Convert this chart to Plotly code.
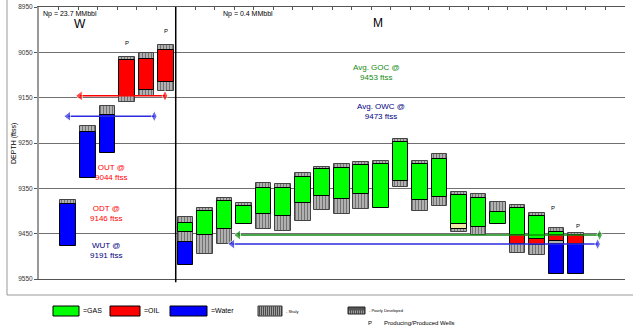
import plotly.graph_objects as go

# ---------------- data ----------------
gas_x = [7.5, 8.5, 9.5, 10.5, 11.5, 12.5, 13.5, 14.5, 15.5, 16.5, 17.5, 18.5, 19.5, 20.5, 21.5, 22.5, 23.5, 24.5, 25.5, 26.5]
gas_top = [9426, 9401, 9378, 9389, 9349, 9350, 9325, 9308, 9305, 9299, 9297, 9248, 9297, 9286, 9364, 9371, 9402, 9394, 9410, 9446]
gas_base = [9446, 9452, 9440, 9429, 9406, 9410, 9382, 9366, 9374, 9362, 9393, 9334, 9376, 9369, 9428, 9435, 9428, 9454, 9461, 9454]

oil_x = [4.5, 5.5, 6.5, 24.5, 25.5, 26.5, 27.5]
oil_top = [9067, 9064, 9045, 9454, 9461, 9454, 9454]
oil_base = [9147, 9132, 9115, 9472, 9474, 9466, 9472]

water_x = [1.5, 2.5, 3.5, 7.5, 26.5, 27.5]
water_top = [9385, 9225, 9189, 9468, 9472, 9472]
water_base = [9477, 9327, 9272, 9520, 9540, 9540]

shaly_x = [1.5, 2.5, 3.5, 4.5, 4.5, 5.5, 5.5, 6.5, 6.5, 7.5, 7.5, 8.5, 8.5, 9.5, 9.5, 10.5,
           11.5, 11.5, 12.5, 12.5, 13.5, 13.5, 14.5, 14.5, 15.5, 15.5, 16.5, 16.5, 17.5,
           18.5, 18.5, 19.5, 19.5, 20.5, 20.5, 21.5, 21.5, 22.5, 22.5, 23.5, 24.5, 24.5,
           25.5, 25.5, 26.5, 27.5]
shaly_top = [9375, 9213, 9169, 9060, 9147, 9051, 9132, 9033, 9115, 9413, 9446, 9394, 9452, 9371, 9440, 9383,
             9339, 9406, 9341, 9410, 9316, 9382, 9302, 9366, 9297, 9374, 9291, 9362, 9289,
             9241, 9334, 9289, 9376, 9274, 9369, 9357, 9440, 9363, 9435, 9380, 9386, 9472,
             9404, 9474, 9438, 9448]
shaly_base = [9385, 9225, 9189, 9067, 9160, 9064, 9147, 9045, 9135, 9426, 9468, 9401, 9494, 9378, 9472, 9389,
              9349, 9440, 9350, 9444, 9325, 9421, 9308, 9398, 9305, 9406, 9299, 9396, 9297,
              9248, 9346, 9297, 9399, 9286, 9389, 9364, 9447, 9371, 9454, 9402, 9394, 9492,
              9410, 9497, 9446, 9454]

poor_x = [26.5]
poor_top = [9466]
poor_base = [9472]

pale_x = [21.5]
pale_top = [9428]
pale_base = [9440]

contact_names = ["ODT", "WUT", "Avg GOC", "Avg OWC"]
contact_x_start = [2.1, 1.5, 10.2, 9.9]
contact_x_end = [6.45, 5.9, 28.7, 28.6]
contact_depth = [9146, 9191, 9453, 9473]

separator_x = 7
y_ticks = [8950, 9050, 9150, 9250, 9350, 9450, 9550]

# ---------------- figure ----------------
FONT = "Liberation Sans Narrow, Arial Narrow, Liberation Sans, Arial, sans-serif"
W, H = 633, 334
ML, MR, MT, MB = 39, 8, 7, 55
PW, PH = W - ML - MR, H - MT - MB


def px(x):
    return (x - ML) / PW


def py(y):
    return (H - MB - y) / PH


fig = go.Figure()

BW = 0.8


def seg_bar(xs, tops, bases, color, line_color="black", pattern=None, name=""):
    marker = dict(color=color, line=dict(color=line_color, width=1))
    if pattern:
        marker["pattern"] = pattern
    fig.add_trace(go.Bar(
        x=xs, y=[b - t for t, b in zip(tops, bases)], base=tops, width=BW,
        marker=marker, name=name, showlegend=False, hoverinfo="skip"))


shaly_pattern = dict(shape="|", bgcolor="#b0b0b0", fgcolor="#333333", size=3, solidity=0.35)
seg_bar(shaly_x, shaly_top, shaly_base, "#b0b0b0", line_color="#444444", pattern=shaly_pattern, name="Shaly")
seg_bar(pale_x, pale_top, pale_base, "#efe8a2", name="Pale")
seg_bar(poor_x, poor_top, poor_base, "#666666",
        pattern=dict(shape=".", bgcolor="#dddddd", fgcolor="#111111", size=2, solidity=0.5), name="Poor")
seg_bar(gas_x, gas_top, gas_base, "#00ff00", name="Gas")
seg_bar(oil_x, oil_top, oil_base, "#ff0000", name="Oil")
seg_bar(water_x, water_top, water_base, "#0000ff", name="Water")

contact_colors = ["#ff0000", "#2a2ae0", "#108a10", "#2a2ae0"]
for nm, xs, xe, d, c in zip(contact_names, contact_x_start, contact_x_end, contact_depth, contact_colors):
    fig.add_trace(go.Scatter(
        x=[xs, xe], y=[d, d], mode="lines+markers", name=nm, showlegend=False, hoverinfo="skip",
        line=dict(color=c, width=1.5),
        marker=dict(symbol=["triangle-left", "diamond-tall"], size=[9, 8], color=c)))

# separator line
fig.add_shape(type="line", xref="x", yref="paper", x0=separator_x, x1=separator_x, y0=-0.012, y1=1,
              line=dict(color="black", width=1.5))

# outer frame
fig.add_shape(type="rect", xref="paper", yref="paper", x0=px(7), x1=px(640), y0=py(295), y1=py(-5),
              line=dict(color="#999999", width=1), layer="below")

ann = []


def txt(x, y, s, size=8, color="black", xanchor="center", xref="x", yref="y", **kw):
    ann.append(dict(x=x, y=y, xref=xref, yref=yref, text=s, showarrow=False, xanchor=xanchor,
                    yanchor="middle", font=dict(family=FONT, size=size, color=color), **kw))


txt(0.1, 8965, "Np = 23.7 MMbbl", size=7, xanchor="left")
txt(2.1, 8988, "W", size=12)
txt(9.3, 8965, "Np = 0.4 MMbbl", size=7, xanchor="left")
txt(17.36, 8986, "M", size=12)
txt(4.5, 9029, "P", size=6)
txt(6.5, 9004, "P", size=6)
txt(26.3, 9394, "P", size=6)
txt(27.6, 9434, "P", size=6)
txt(17.3, 9094, "Avg. GOC @<br>9453 ftss", size=8, color="#108a10")
txt(17.5, 9180, "Avg. OWC @<br>9473 ftss", size=8, color="#000080")
txt(3.7, 9314, "OUT @<br>9044 ftss", size=8, color="#ff0000")
txt(3.45, 9405, "ODT @<br>9146 ftss", size=8, color="#ff0000")
txt(3.45, 9488, "WUT @<br>9191 ftss", size=8, color="#000080")
txt(px(14), 0.5, "DEPTH (ftss)", size=7, xref="paper", yref="paper", textangle=-90)

# legend
leg = [(53, 79, "#00ff00", "=GAS"), (110, 140, "#ff0000", "=OIL"), (170, 207, "#0000ff", "=Water")]
for x0, x1, c, lab in leg:
    fig.add_shape(type="rect", xref="paper", yref="paper", x0=px(x0), x1=px(x1), y0=py(316), y1=py(306),
                  fillcolor=c, line=dict(color="black", width=1))
    txt(px(x1 + 2), py(310), lab, size=7, xref="paper", yref="paper", xanchor="left")

fig.add_shape(type="rect", xref="paper", yref="paper", x0=px(258), x1=px(282), y0=py(316), y1=py(306),
              fillcolor="#a0a0a0", line=dict(color="#333333", width=1))
for i in range(12):
    xx = 259.5 + i * 2
    fig.add_shape(type="line", xref="paper", yref="paper", x0=px(xx), x1=px(xx), y0=py(315.5), y1=py(306.5),
                  line=dict(color="#333333", width=0.8))
txt(px(284), py(311), "- Shaly", size=4, xref="paper", yref="paper", xanchor="left")

fig.add_shape(type="rect", xref="paper", yref="paper", x0=px(348), x1=px(365), y0=py(314), y1=py(307),
              fillcolor="#555555", line=dict(color="#222222", width=1))
for i in range(8):
    xx = 349.5 + i * 2
    fig.add_shape(type="line", xref="paper", yref="paper", x0=px(xx), x1=px(xx), y0=py(313.5), y1=py(307.5),
                  line=dict(color="#cccccc", width=0.6, dash="dot"))
txt(px(367), py(310.5), "- Poorly Developed", size=4, xref="paper", yref="paper", xanchor="left")
txt(px(366), py(323), "P", size=6, xref="paper", yref="paper", xanchor="left")
txt(px(382), py(323), "Producing/Produced Wells", size=6, xref="paper", yref="paper", xanchor="left")

fig.update_layout(
    width=W, height=H, margin=dict(l=ML, r=MR, t=MT, b=MB, autoexpand=False),
    paper_bgcolor="white", plot_bgcolor="white", barmode="overlay", bargap=0,
    showlegend=False, annotations=ann,
    xaxis=dict(range=[0, 30], side="top", tickmode="linear", tick0=0, dtick=1, ticks="inside", ticklen=3,
               tickcolor="#555555", showticklabels=False, showgrid=False, zeroline=False, automargin=False,
               showline=True, linecolor="#555555", linewidth=1, mirror=True, fixedrange=True),
    yaxis=dict(range=[9550, 8950], tickmode="array", tickvals=y_ticks, ticktext=[str(v) for v in y_ticks],
               ticks="outside", ticklen=3, tickcolor="#555555", automargin=False,
               tickfont=dict(family=FONT, size=6.5, color="#333333"),
               showgrid=True, gridcolor="#707070", gridwidth=1, zeroline=False,
               showline=True, linecolor="#999999", linewidth=2, fixedrange=True),
)

fig.write_html("out.html", config={"displayModeBar": False},
               post_script="document.body.style.margin='0';document.body.style.overflow='hidden';")
